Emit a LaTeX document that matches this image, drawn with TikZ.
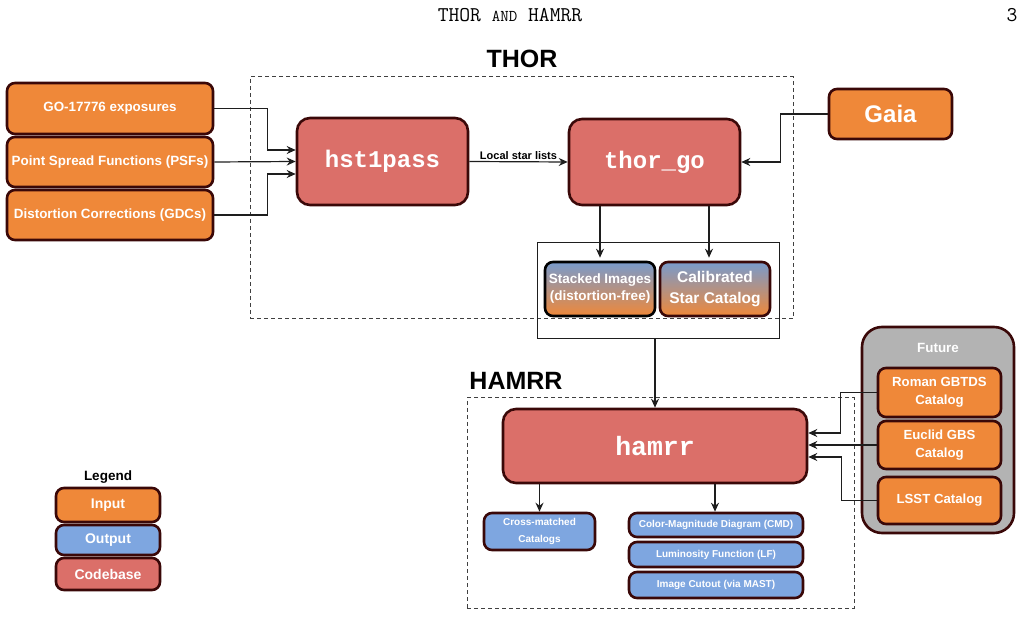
\documentclass[tikz,border=0pt]{standalone}
\usepackage{fontspec}
\setmainfont{Liberation Sans}
\newfontfamily\cour{Liberation Mono}
\usetikzlibrary{arrows.meta,calc}
\definecolor{orng}{RGB}{239,136,57}
\definecolor{blu}{RGB}{126,166,224}
\definecolor{rd}{RGB}{219,111,105}
\definecolor{bord}{RGB}{58,8,8}
\definecolor{gry}{RGB}{179,179,179}
\definecolor{ln}{RGB}{30,30,30}
\newcommand\fsz[2]{\fontsize{#1}{#2}\selectfont}
\tikzset{
  box/.style={draw=bord, line width=2.6pt, rounded corners=8pt, text=white, align=center, inner sep=0pt},
  inp/.style={box, fill=orng},
  outp/.style={box, fill=blu},
  codebox/.style={box, fill=rd, rounded corners=13pt, font=\cour\bfseries\fsz{24}{28}},
  arr/.style={draw=ln, line width=1.2pt, -{Stealth[length=9pt,width=8pt,inset=3pt]}},
  dashbox/.style={draw=black!75, line width=1pt, dash pattern=on 4pt off 3pt},
  title/.style={font=\bfseries\fsz{25}{30}, text=black, inner sep=0pt}
}
\begin{document}
\begin{tikzpicture}[x=1pt,y=-1pt]
\useasboundingbox (0,0) rectangle (1028,617);
% header
\node[font=\ttfamily\fsz{21}{24}, inner sep=0pt] (hdr) at (510,15) {THOR {\fsz{16.5}{18}AND} HAMRR};
\node[font=\ttfamily\fsz{21}{24}, inner sep=0pt] (pg) at (1012,15) {3};

% THOR group
\node[dashbox, minimum width=543pt, minimum height=242pt] (thorbox) at (521.5,198) {};
\node[title] (thorlbl) at (522,59) {THOR};

\node[inp, minimum width=206pt, minimum height=51pt, font=\bfseries\fsz{13.4}{16}] (go) at (110,108.5) {GO-17776 exposures};
\node[inp, minimum width=206pt, minimum height=50pt, font=\bfseries\fsz{13.4}{16}] (psf) at (110,162) {Point Spread Functions (PSFs)};
\node[inp, minimum width=206pt, minimum height=50pt, font=\bfseries\fsz{13.4}{16}] (gdc) at (110,215) {Distortion Corrections (GDCs)};

\node[codebox, minimum width=171pt, minimum height=87pt] (hst) at (382.5,161.5) {hst1pass};
\node[codebox, minimum width=171pt, minimum height=86pt] (thor) at (654.5,162) {thor\_go};
\node[inp, minimum width=123pt, minimum height=50pt, font=\bfseries\fsz{24}{28}] (gaia) at (890.5,114) {Gaia};

\node[draw=ln, line width=1pt, minimum width=242pt, minimum height=96pt, inner sep=0pt] (tout) at (658,291) {};
\node[box, draw=black, top color=blu!90!black!95, bottom color=orng, minimum width=110pt, minimum height=54pt, font=\bfseries\fsz{13.5}{17}] (stk) at (600,289) {Stacked Images\\(distortion-free)};
\node[box, top color=blu!90!black!95, bottom color=orng, minimum width=110pt, minimum height=54pt, font=\bfseries\fsz{15.5}{21}] (cal) at (715,289) {Calibrated\\Star Catalog};

\draw[arr] (go.east) -- ++(53,0) |- ([yshift=11.5pt]hst.west);
\draw[arr] (psf.east) -- (hst.west);
\draw[arr] (gdc.east) -- ++(53,0) |- ([yshift=-12.5pt]hst.west);
\draw[arr] (hst.east) -- node[above=2pt, font=\bfseries\fsz{11}{13}, text=black, inner sep=0pt] (lsl) {Local star lists} (thor.west);
\draw[arr] (gaia.west) -- ++(-47,0) |- (thor.east);
\draw[arr] (thor.south -| stk.north) -- ([yshift=3pt]stk.north);
\draw[arr] ([xshift=54.5pt]thor.south) -- ([xshift=54.5pt,yshift=3pt]thor.south |- cal.north);

% HAMRR group
\node[dashbox, minimum width=387pt, minimum height=210pt] (hambox) at (660.5,503) {};
\node[title] (hamlbl) at (516,381) {HAMRR};
\node[codebox, minimum width=304pt, minimum height=74pt, font=\cour\bfseries\fsz{26.5}{30}] (hamrr) at (655,446) {hamrr};
\draw[arr] (hamrr.north |- tout.south) -- (hamrr.north);

\node[outp, minimum width=111pt, minimum height=37pt, font=\bfseries\fsz{10}{17}] (cross) at (539.5,531.5) {Cross-matched\\Catalogs};
\node[outp, minimum width=174pt, minimum height=24pt, font=\bfseries\fsz{10}{12}] (cmd) at (716,525) {Color-Magnitude Diagram (CMD)};
\node[outp, minimum width=174pt, minimum height=25pt, font=\bfseries\fsz{10}{12}] (lf) at (716,554.5) {Luminosity Function (LF)};
\node[outp, minimum width=174pt, minimum height=26pt, font=\bfseries\fsz{10}{12}] (cut) at (716,585) {Image Cutout (via MAST)};
\draw[arr] (cross.north |- hamrr.south) -- (cross.north);
\draw[arr] ([xshift=-1pt]cmd.north |- hamrr.south) -- ([xshift=-1pt]cmd.north);

% Future
\node[box, fill=gry, rounded corners=20pt, minimum width=152pt, minimum height=206pt] (fut) at (938,430) {};
\node[font=\bfseries\fsz{13.4}{16}, text=white, inner sep=0pt] (futlbl) at (938,348) {Future};
\node[inp, minimum width=123pt, minimum height=49pt, font=\bfseries\fsz{13.2}{18}] (roman) at (939.5,392.5) {Roman GBTDS\\Catalog};
\node[inp, minimum width=123pt, minimum height=48pt, font=\bfseries\fsz{13.2}{18}] (euclid) at (939.5,445) {Euclid GBS\\Catalog};
\node[inp, minimum width=123pt, minimum height=47pt, font=\bfseries\fsz{13.2}{18}] (lsst) at (939.5,500.5) {LSST Catalog};
\draw[arr] (roman.west) -- ++(-36,0) |- ([yshift=13pt]hamrr.east);
\draw[arr] (euclid.west) -- (euclid.west -| hamrr.east);
\draw[arr] (lsst.west) -- ++(-35,0) |- ([yshift=-11pt]hamrr.east);

% Legend
\node[font=\bfseries\fsz{13.5}{16}, text=black, inner sep=0pt] (leg) at (108,477) {Legend};
\node[inp, minimum width=104pt, minimum height=34pt, font=\bfseries\fsz{14}{16}] (lin) at (108,505) {Input};
\node[outp, minimum width=104pt, minimum height=30pt, font=\bfseries\fsz{14}{16}] (lout) at (108,540) {Output};
\node[box, fill=rd, minimum width=104pt, minimum height=32pt, font=\bfseries\fsz{14}{16}] (lcode) at (108,574) {Codebase};
\end{tikzpicture}
\end{document}
